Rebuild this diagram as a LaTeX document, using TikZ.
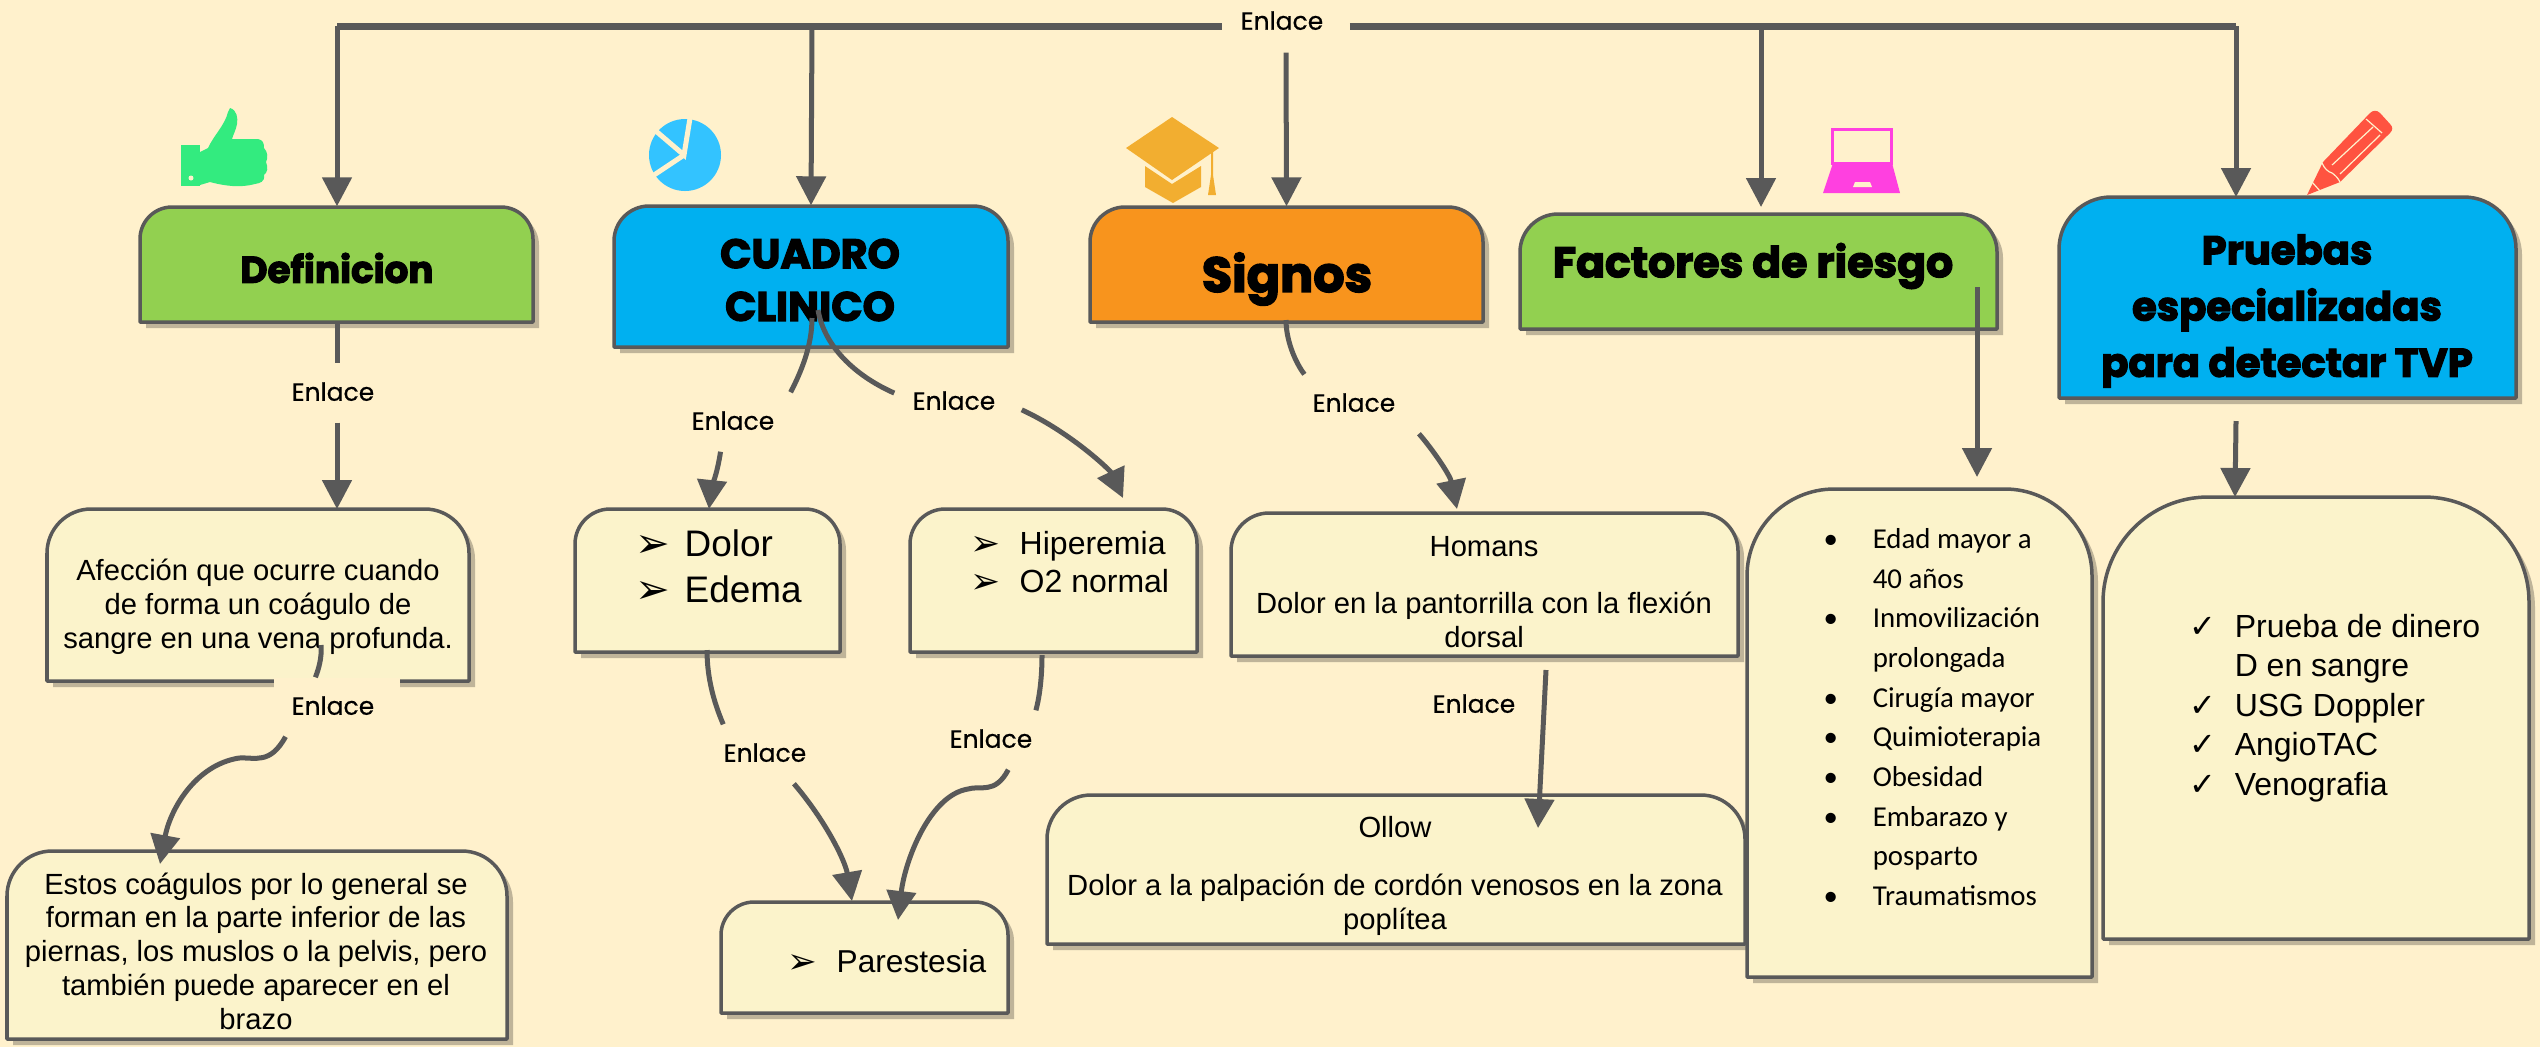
\documentclass[tikz,border=0pt]{standalone}
\usepackage{fontspec}
\usepackage{graphicx}
\setmainfont{Liberation Sans}
\newfontfamily\symfont{DejaVu Sans}
\newfontfamily\linkfont[FakeBold=0.5]{Poppins}
\newfontfamily\headfont[BoldFeatures={FakeBold=3}]{Poppins}
\newfontfamily\listfont{Carlito}
\usetikzlibrary{arrows.meta,fit}
\definecolor{pagebg}{HTML}{FFF1CC}
\definecolor{paleyellow}{HTML}{FBF3CB}
\definecolor{headgreen}{HTML}{92D050}
\definecolor{headblue}{HTML}{00B0F0}
\definecolor{headorange}{HTML}{F8941D}
\definecolor{linkgray}{HTML}{595959}
\definecolor{shadecol}{HTML}{BFB499}
\definecolor{thumbcol}{HTML}{33EB7F}
\definecolor{piecol}{HTML}{33C3FF}
\definecolor{capcol}{HTML}{F2AE30}
\definecolor{laptopcol}{HTML}{FF40E0}
\definecolor{pencilcol}{HTML}{FF5340}
\tikzset{
  boxline/.style={draw=linkgray, line width=.035cm, line join=round},
  boxshade/.style={fill=shadecol},
  linkline/.style={draw=linkgray, line width=.05cm},
  linkarrow/.style={linkline, -{Triangle[width=.29cm,length=.29cm]}},
  linklabel/.style={fill=pagebg, inner sep=0pt, minimum width=1.26cm, minimum height=.58cm, font=\linkfont\fontsize{7.1}{9}\selectfont},
  bodytext/.style={inner sep=0pt, align=center, font=\fontsize{8.3}{9.6}\selectfont},
  headtext/.style={inner sep=0pt, align=center},
  listtext/.style={inner sep=0pt, align=left, anchor=west},
  pencilcut/.style={draw=pagebg, line width=.012cm},
}
\newcommand{\topshape}[5]{(#1,#4) -- (#1,#2+#5) .. controls (#1,#2+0.45*#5) and (#1+0.45*#5,#2) .. (#1+#5,#2) -- (#3-#5,#2) .. controls (#3-0.45*#5,#2) and (#3,#2+0.45*#5) .. (#3,#2+#5) -- (#3,#4) -- cycle}
\newcommand{\topbox}[7]{%
  \path[boxshade, shift={(6,6)}] \topshape{#2}{#3}{#4}{#5}{#6};
  \path[boxline, fill=#7] \topshape{#2}{#3}{#4}{#5}{#6};
  \node[fit={(#2,#3) (#4,#5)}, inner sep=0pt] (#1) {};
}
\newcommand{\linktxt}{\raisebox{.03cm}{Enlace}\hspace*{.08cm}}
\newcommand{\arrowitem}{\makebox[.46cm][l]{\hspace*{-.03cm}\raisebox{-.01cm}{\scalebox{1.12}{\symfont ➢}}}}
\newcommand{\checkitem}{\makebox[.45cm][l]{\symfont ✓}}
\newcommand{\dotitem}{\makebox[.49cm][l]{\textbullet}}
\begin{document}
\begin{tikzpicture}[x=.01cm,y=-.01cm]
  \useasboundingbox (0,0) rectangle (2540,1047);
  \fill[pagebg] (0,0) rectangle (2540,1047);
  % icons
  \fill[thumbcol] (230,108) .. controls (237,110) and (238,118) .. (237,124) .. controls (236,130) and (233,135) .. (232,139) -- (258,139) .. controls (263,140) and (264,143) .. (264,148) .. controls (268,152) and (268,158) .. (266,162) .. controls (268,167) and (268,172) .. (264,175) .. controls (265,182) and (260,183) .. (255,184) .. controls (240,188) and (225,186) .. (210,182) -- (200,185) -- (200,152) -- (208,148) .. controls (214,135) and (225,125) .. (228,112) -- cycle;
  \fill[thumbcol] (181,145) rectangle (200,186);
  \fill[pagebg] (191,178) circle (2.5);
  \fill[piecol] (685,155) circle (36);
  \draw[pagebg, line width=.05cm] (650,126) -- (684,155) -- (691,112);
  \draw[pagebg, line width=.05cm] (684,155) -- (645,181);
  \fill[capcol] (1172,117) -- (1219,148) -- (1172,180) -- (1126,148) -- cycle;
  \fill[capcol] (1145,166) -- (1172,184) -- (1201,166) -- (1201,187) -- (1173,203) -- (1145,187) -- cycle;
  \fill[capcol] (1211,152) -- (1213,152) -- (1213,175) -- (1216,195) -- (1208,195) -- (1211,175) -- cycle;
  \draw[laptopcol, line width=.03cm] (1832,129) rectangle (1891,163);
  \fill[laptopcol] (1833,163) -- (1892,163) -- (1900,193) -- (1823,193) -- cycle;
  \fill[pagebg] (1855,182) -- (1870,182) -- (1872,187) -- (1853,187) -- cycle;
  \fill[pencilcol] (2370,113) .. controls (2373,110) and (2377,110) .. (2380,113) -- (2390,124) .. controls (2393,127) and (2393,130) .. (2390,133) -- (2340,182) -- (2307,195) -- (2323,162) -- cycle;
  \draw[pencilcut] (2366,119) -- (2382,133);
  \draw[pencilcut] (2332,165) -- (2373,127);
  \draw[pencilcut] (2340,174) -- (2380,135);
  \draw[pencilcut] (2322,163) .. controls (2324,168) and (2328,172) .. (2332,173) .. controls (2335,175) and (2338,178) .. (2340,182);
  \draw[pencilcut] (2312,182) -- (2320,191);
  % header boxes
  \topbox{def}{140}{207}{533}{322}{32}{headgreen}
  \topbox{cuadro}{614}{206}{1008}{347}{35}{headblue}
  \topbox{signos}{1090}{207}{1483}{322}{35}{headorange}
  \topbox{riesgo}{1520}{214}{1997}{329}{38}{headgreen}
  \topbox{pruebas}{2059}{197}{2516}{398}{52}{headblue}
  % detail boxes
  \topbox{afeccion}{47}{509}{469}{681}{44}{paleyellow}
  \topbox{estos}{7}{851}{507}{1039}{45}{paleyellow}
  \topbox{dolor}{575}{509}{840}{652}{35}{paleyellow}
  \topbox{hiper}{910}{509}{1197}{652}{35}{paleyellow}
  \topbox{parest}{721}{902}{1008}{1013}{33}{paleyellow}
  \topbox{homans}{1231}{513}{1738}{656}{38}{paleyellow}
  \topbox{ollow}{1047}{795}{1745}{944}{44}{paleyellow}
  \topbox{edad}{1747}{489}{2092}{977}{87}{paleyellow}
  \topbox{prueba}{2103}{497}{2529}{939}{105}{paleyellow}
  % texts
  \node[headtext, font=\headfont\bfseries\fontsize{10.6}{12}\selectfont] (defTxt) at (337,268) {Definicion};
  \node[headtext, font=\headfont\bfseries\fontsize{11.7}{15}\selectfont] (cuadroTxt) at (810,280) {CUADRO\\CLINICO};
  \node[headtext, font=\headfont\bfseries\fontsize{14}{16}\selectfont] (signosTxt) at (1287,279) {Signos};
  \node[headtext, font=\headfont\bfseries\fontsize{12.1}{12}\selectfont] (riesgoTxt) at (1753,266) {Factores de riesgo};
  \node[headtext, font=\headfont\bfseries\fontsize{11.4}{16}\selectfont] (pruebasTxt) at (2287,311) {Pruebas\\especializadas\\para detectar TVP};
  \node[bodytext] (afeccionTxt) at (258,607) {Afección que ocurre cuando\\de forma un coágulo de\\sangre en una vena profunda.};
  \node[bodytext] (estosTxt) at (256,951) {Estos coágulos por lo general se\\forman en la parte inferior de las\\piernas, los muslos o la pelvis, pero\\también puede aparecer en el\\brazo};
  \node[listtext, font=\fontsize{10.5}{13.1}\selectfont] (dolorTxt) at (638,567) {\arrowitem Dolor\\\arrowitem Edema};
  \node[listtext, font=\fontsize{9.1}{10.8}\selectfont] (hiperTxt) at (973,562) {\arrowitem Hiperemia\\\arrowitem O2 normal};
  \node[listtext, font=\fontsize{9}{11}\selectfont] (parestTxt) at (790,962) {\arrowitem Parestesia};
  \node[bodytext] (homansTxt) at (1484,592) {Homans\\[.24cm]Dolor en la pantorrilla con la flexión\\dorsal};
  \node[bodytext] (ollowTxt) at (1395,876) {Ollow\\[.24cm]Dolor a la palpación de cordón venosos en la zona\\poplítea};
  \node[listtext, font=\listfont\fontsize{8.2}{11.27}\selectfont] (edadTxt) at (1823,717) {\dotitem Edad mayor a\\\hspace*{.49cm}40 años\\\dotitem Inmovilización\\\hspace*{.49cm}prolongada\\\dotitem Cirugía mayor\\\dotitem Quimioterapia\\\dotitem Obesidad\\\dotitem Embarazo y\\\hspace*{.49cm}posparto\\\dotitem Traumatismos};
  \node[listtext, font=\fontsize{9.1}{11.2}\selectfont] (pruebaTxt) at (2189,708) {\checkitem Prueba de dinero\\\hspace*{.45cm}D en sangre\\\checkitem USG Doppler\\\checkitem AngioTAC\\\checkitem Venografia};
  % connector ends
  \coordinate (busL) at (337,26);
  \coordinate (busB) at (812,26);
  \coordinate (busD) at (1761,26);
  \coordinate (busR) at (2236,26);
  \coordinate (riesgoTip) at (1761,207);
  \coordinate (pruebasTip) at (2236,197);
  \coordinate (afeccionTip) at (337,509);
  \coordinate (afeccionOut) at (321,645);
  \coordinate (estosTip) at (160,864);
  \coordinate (cuadroOutL) at (812,318);
  \coordinate (cuadroOutR) at (818,310);
  \coordinate (dolorTip) at (709,509);
  \coordinate (hiperTip) at (1123,498);
  \coordinate (signosOut) at (1286,320);
  \coordinate (homansTip) at (1457,509);
  \coordinate (dolorOut) at (707,650);
  \coordinate (hiperOut) at (1042,655);
  \coordinate (parestTipL) at (852,901);
  \coordinate (parestTipR) at (898,920);
  \coordinate (homansOut) at (1546,670);
  \coordinate (ollowTip) at (1538,828);
  \coordinate (riesgoOut) at (1977,287);
  \coordinate (edadTip) at (1977,477);
  \coordinate (pruebasOut) at (2236,421);
  \coordinate (pruebaTip) at (2235,497);
  % labels
  \node[linklabel, minimum height=.52cm] (enlTop) at (1286,26) {\raisebox{.08cm}{\linktxt}};
  \node[linklabel] (enlDef) at (337,393) {\linktxt};
  \node[linklabel] (enlAf) at (337,707) {\linktxt};
  \node[linklabel] (enlCL) at (737,422) {\linktxt};
  \node[linklabel] (enlCR) at (958,402) {\linktxt};
  \node[linklabel] (enlSig) at (1358,404) {\linktxt};
  \node[linklabel] (enlDL) at (769,754) {\linktxt};
  \node[linklabel] (enlHL) at (995,740) {\linktxt};
  \node[linklabel] (enlHom) at (1478,705) {\linktxt};
  % connectors
  \draw[linkline, line width=.07cm] (busL) -- (enlTop.west);
  \draw[linkline, line width=.07cm] (enlTop.east) -- (busR);
  \draw[linkarrow] (busL) -- (busL |- def.north);
  \draw[linkarrow] (busB) -- (cuadro.north);
  \draw[linkarrow] (enlTop.south) -- (signos.north);
  \draw[linkarrow] (busD) -- (riesgoTip);
  \draw[linkarrow] (busR) -- (pruebasTip);
  \draw[linkline] (busL |- def.south) -- (enlDef.north);
  \draw[linkarrow] (enlDef.south) -- (afeccionTip);
  \draw[linkline] (afeccionOut) .. controls (322,657) and (319,668) .. (enlAf.126);
  \draw[linkarrow] (enlAf.210) .. controls (270,765) and (255,757) .. (239,758) .. controls (195,765) and (170,810) .. (estosTip);
  \draw[linkline] (cuadroOutL) .. controls (812,345) and (802,370) .. (enlCL.29);
  \draw[linkarrow] (enlCL.-119) .. controls (717,475) and (711,490) .. (dolorTip);
  \draw[linkline] (cuadroOutR) .. controls (825,350) and (860,378) .. (enlCR.172);
  \draw[linkarrow] (enlCR.-7) .. controls (1070,432) and (1110,470) .. (hiperTip);
  \draw[linkline] (signosOut) .. controls (1286,340) and (1295,362) .. (enlSig.151);
  \draw[linkarrow] (enlSig.-26) .. controls (1433,450) and (1450,475) .. (homansTip);
  \draw[linkline] (dolorOut) .. controls (707,680) and (715,705) .. (enlDL.147);
  \draw[linkarrow] (enlDL.-50) .. controls (825,820) and (845,860) .. (parestTipL);
  \draw[linkline] (hiperOut) .. controls (1042,675) and (1040,695) .. (enlHL.36);
  \draw[linkarrow] (enlHL.-66) .. controls (995,795) and (980,785) .. (968,789) .. controls (930,795) and (905,860) .. (parestTipR);
  \draw[linkarrow] (homansOut) -- (ollowTip);
  \draw[linkarrow] (riesgoOut) -- (edadTip);
  \draw[linkarrow] (pruebasOut) -- (pruebaTip);
\end{tikzpicture}
\end{document}
